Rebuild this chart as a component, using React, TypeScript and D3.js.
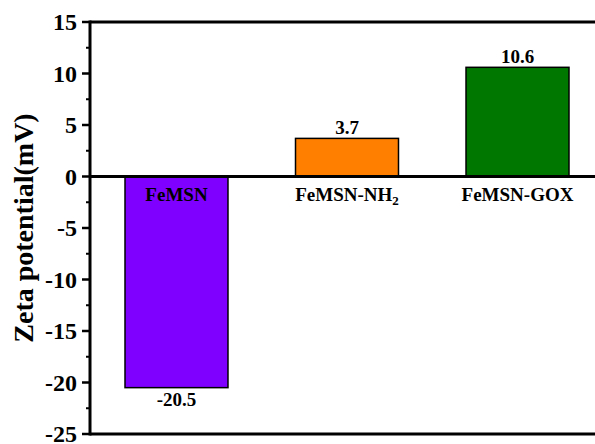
import React from "react";
import * as d3 from "d3";

const categories = ["FeMSN", "FeMSN-NH2", "FeMSN-GOX"];
const values = [-20.5, 3.7, 10.6];
const valueLabels = ["-20.5", "3.7", "10.6"];
const colors = ["#7F00FF", "#FF8000", "#007800"];
const yTicks = [-25, -20, -15, -10, -5, 0, 5, 10, 15];
const yMinorTicks = [-22.5, -17.5, -12.5, -7.5, -2.5, 2.5, 7.5, 12.5];

const W = 595;
const H = 444;
const left = 90;
const right = 595;
const top = 22;
const bottom = 434;
const font = "'Liberation Serif', 'Times New Roman', serif";

export default function App() {
  const y = d3.scaleLinear().domain([-25, 15]).range([bottom, top]);
  const x = d3
    .scaleBand<string>()
    .domain(categories)
    .range([90.9, 603.1])
    .paddingInner(0.396)
    .paddingOuter(0.2);
  const bw = x.bandwidth();

  const renderCatLabel = (c: string) => {
    if (c === "FeMSN-NH2") {
      return (
        <>
          FeMSN-NH
          <tspan fontSize={13} dy={4}>2</tspan>
        </>
      );
    }
    return c;
  };

  return (
    <svg
      width={W}
      height={H}
      style={{ position: "absolute", left: 0, top: 0, background: "#fff" }}
      fontFamily={font}
    >
      <rect x={0} y={0} width={W} height={H} fill="#fff" />
      {categories.map((c, i) => {
        const v = values[i];
        const bx = x(c) as number;
        const y0 = y(0);
        const yv = y(v);
        return (
          <g key={c}>
            <rect
              x={bx}
              y={Math.min(y0, yv)}
              width={bw}
              height={Math.abs(yv - y0)}
              fill={colors[i]}
              stroke="#000"
              strokeWidth={1.5}
            />
            <text
              x={bx + bw / 2}
              y={v >= 0 ? yv - 4 : yv + 18}
              textAnchor="middle"
              fontWeight="bold"
              fontSize={19}
            >
              {valueLabels[i]}
            </text>
            <text
              x={bx + bw / 2}
              y={y0 + 24}
              textAnchor="middle"
              fontWeight="bold"
              fontSize={19}
            >
              {renderCatLabel(c)}
            </text>
          </g>
        );
      })}
      {/* zero line */}
      <line x1={left} x2={right} y1={y(0)} y2={y(0)} stroke="#000" strokeWidth={3} />
      {/* frame */}
      <line x1={left} x2={right} y1={top} y2={top} stroke="#000" strokeWidth={3} />
      <line x1={left} x2={right} y1={bottom} y2={bottom} stroke="#000" strokeWidth={3} />
      <line x1={left} x2={left} y1={top - 1.5} y2={bottom + 1.5} stroke="#000" strokeWidth={3} />
      {yTicks.map((t) => (
        <g key={t}>
          <line x1={left - 8} x2={left} y1={y(t)} y2={y(t)} stroke="#000" strokeWidth={2.5} />
          <text
            x={left - 13}
            y={y(t)}
            dy="0.35em"
            textAnchor="end"
            fontWeight="bold"
            fontSize={24}
          >
            {t}
          </text>
        </g>
      ))}
      {yMinorTicks.map((t) => (
        <line key={t} x1={left - 4} x2={left} y1={y(t)} y2={y(t)} stroke="#000" strokeWidth={2} />
      ))}
      <text
        transform={`translate(33, ${(top + bottom) / 2}) rotate(-90)`}
        textAnchor="middle"
        fontWeight="bold"
        fontSize={28}
      >
        Zeta potential(mV)
      </text>
    </svg>
  );
}
